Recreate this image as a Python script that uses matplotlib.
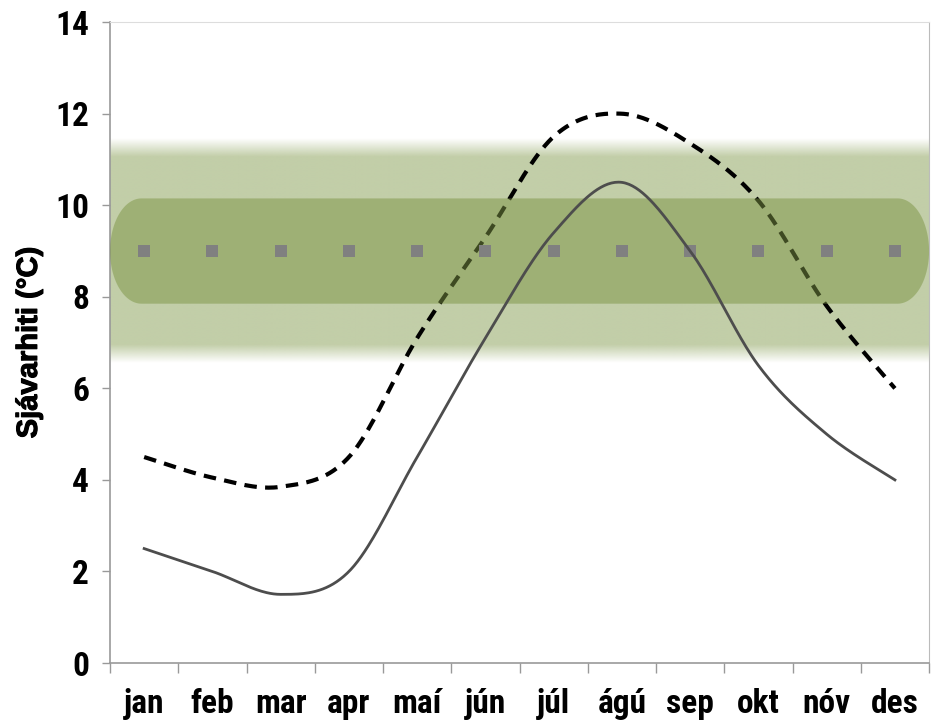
import matplotlib
matplotlib.use("Agg")
import matplotlib.pyplot as plt
import matplotlib.font_manager as fm
import matplotlib.patheffects as pe
import numpy as np

# ---------------------------------------------------------------------------
# Data
# ---------------------------------------------------------------------------
months = ["jan", "feb", "mar", "apr", "maí", "jún",
          "júl", "ágú", "sep", "okt", "nóv", "des"]
temp_solid  = [2.5, 2.0, 1.5, 2.0, 4.5, 7.1, 9.4, 10.5, 9.0, 6.5, 5.0, 4.0]
temp_dashed = [4.5, 4.05, 3.85, 4.5, 7.1, 9.3, 11.5, 12.0, 11.35, 10.1, 7.8, 6.0]
ref_level   = [9.0] * 12

outer_band = (6.75, 11.25)   # light green, soft edges
inner_band = (7.85, 10.15)   # darker green, rounded ends

y_ticks = [0, 2, 4, 6, 8, 10, 12, 14]

# font choice: narrow bold for ticks, a bold Arial-like face for the label
_fonts = fm.fontManager.ttflist
_names = {f.name for f in _fonts}
narrow = next((n for n in ["Liberation Sans Narrow", "Roboto Condensed",
                           "Open Sans Condensed"] if n in _names),
              "Liberation Sans")
label_family = "Liberation Sans" if "Liberation Sans" in _names else "DejaVu Sans"


def smooth(x, y, n=40):
    """Excel-style smoothed line (cubic Bezier, tension 1/6)."""
    x = np.asarray(x, float)
    y = np.asarray(y, float)
    px = np.concatenate([[x[0]], x, [x[-1]]])
    py = np.concatenate([[y[0]], y, [y[-1]]])
    t = np.linspace(0, 1, n)[:, None]
    segs = []
    for i in range(len(x) - 1):
        p0 = np.array([px[i], py[i]])
        p1 = np.array([px[i + 1], py[i + 1]])
        p2 = np.array([px[i + 2], py[i + 2]])
        p3 = np.array([px[i + 3], py[i + 3]])
        c1 = p1 + (p2 - p0) / 6
        c2 = p2 - (p3 - p1) / 6
        b = ((1 - t) ** 3) * p1 + 3 * ((1 - t) ** 2) * t * c1 \
            + 3 * (1 - t) * t ** 2 * c2 + t ** 3 * p2
        segs.append(b if i == 0 else b[1:])
    pts = np.vstack(segs)
    return pts[:, 0], pts[:, 1]


def pill(x0, x1, lo, hi, rx, n=60):
    """Band with semi-elliptic ends."""
    mid = (lo + hi) / 2
    ry = (hi - lo) / 2
    a_r = np.linspace(np.pi / 2, -np.pi / 2, n)
    a_l = np.linspace(-np.pi / 2, -3 * np.pi / 2, n)
    xs = np.concatenate([x1 - rx + rx * np.cos(a_r), x0 + rx + rx * np.cos(a_l)])
    ys = np.concatenate([mid + ry * np.sin(a_r), mid + ry * np.sin(a_l)])
    return xs, ys


fig = plt.figure(figsize=(9.31, 7.27), dpi=100)
ax = fig.add_axes([0.1182, 0.088, 0.8797, 0.8815])

x = np.arange(len(months))
xlim = (-0.5, len(months) - 0.5)

# light band with blurred top/bottom edges
blur = 0.2
yy = np.linspace(outer_band[0] - blur, outer_band[1] + blur, 400)
alpha = np.clip(np.minimum(yy - (outer_band[0] - blur),
                           (outer_band[1] + blur) - yy) / (2 * blur), 0, 1)
img = np.zeros((len(yy), 2, 4))
img[..., :3] = np.array([194, 206, 168]) / 255
img[..., 3] = alpha[:, None]
ax.imshow(img, extent=(xlim[0], xlim[1], yy[0], yy[-1]), origin="lower",
          aspect="auto", interpolation="bilinear", zorder=1)

# dashed series sits under the darker band (it gets tinted there)
sx, sy = smooth(x, temp_dashed)
ax.plot(sx, sy, color="black", lw=3.0, dashes=(3.0, 2.0), zorder=2)

bx, by = pill(xlim[0], xlim[1], inner_band[0], inner_band[1], rx=0.46)
ax.fill(bx, by, color="#7c9444", alpha=0.5, lw=0, zorder=3)

ax.plot(x, ref_level, ls="none", marker="s", ms=8, color="#808080",
        markeredgewidth=0, zorder=4)

sx, sy = smooth(x, temp_solid)
ax.plot(sx, sy, color="#4d4d4d", lw=2.0, zorder=5)

ax.set_xlim(*xlim)
ax.set_ylim(0, 14)
ax.set_yticks(y_ticks)
ax.set_xticks(x)
ax.set_xticks(np.arange(xlim[0], xlim[1] + 0.01, 1), minor=True)
ax.set_xticklabels(months)

for lab in ax.get_xticklabels() + ax.get_yticklabels():
    lab.set_fontfamily(narrow)
    lab.set_fontweight("bold")
    lab.set_fontsize(24)

ax.tick_params(axis="x", which="major", length=0, pad=18)
ax.tick_params(axis="x", which="minor", length=7, width=1, color="#999999")
ax.tick_params(axis="y", length=6, width=1, color="#999999", pad=9)

for side in ("left", "bottom"):
    ax.spines[side].set_color("#999999")
    ax.spines[side].set_linewidth(1.2)
ax.spines["right"].set_color("#bbbbbb")
ax.spines["top"].set_color("#dddddd")

label_font = fm.FontProperties(family=label_family, weight="bold", size=21)
ylab = ax.set_ylabel("Sjávarhiti (°C)", fontproperties=label_font)
# the reference text is rendered rather heavy
ylab.set_path_effects([pe.Stroke(linewidth=0.8, foreground="black"), pe.Normal()])
ax.yaxis.set_label_coords(-0.082, 0.50)

fig.savefig("out.png", dpi=100)
